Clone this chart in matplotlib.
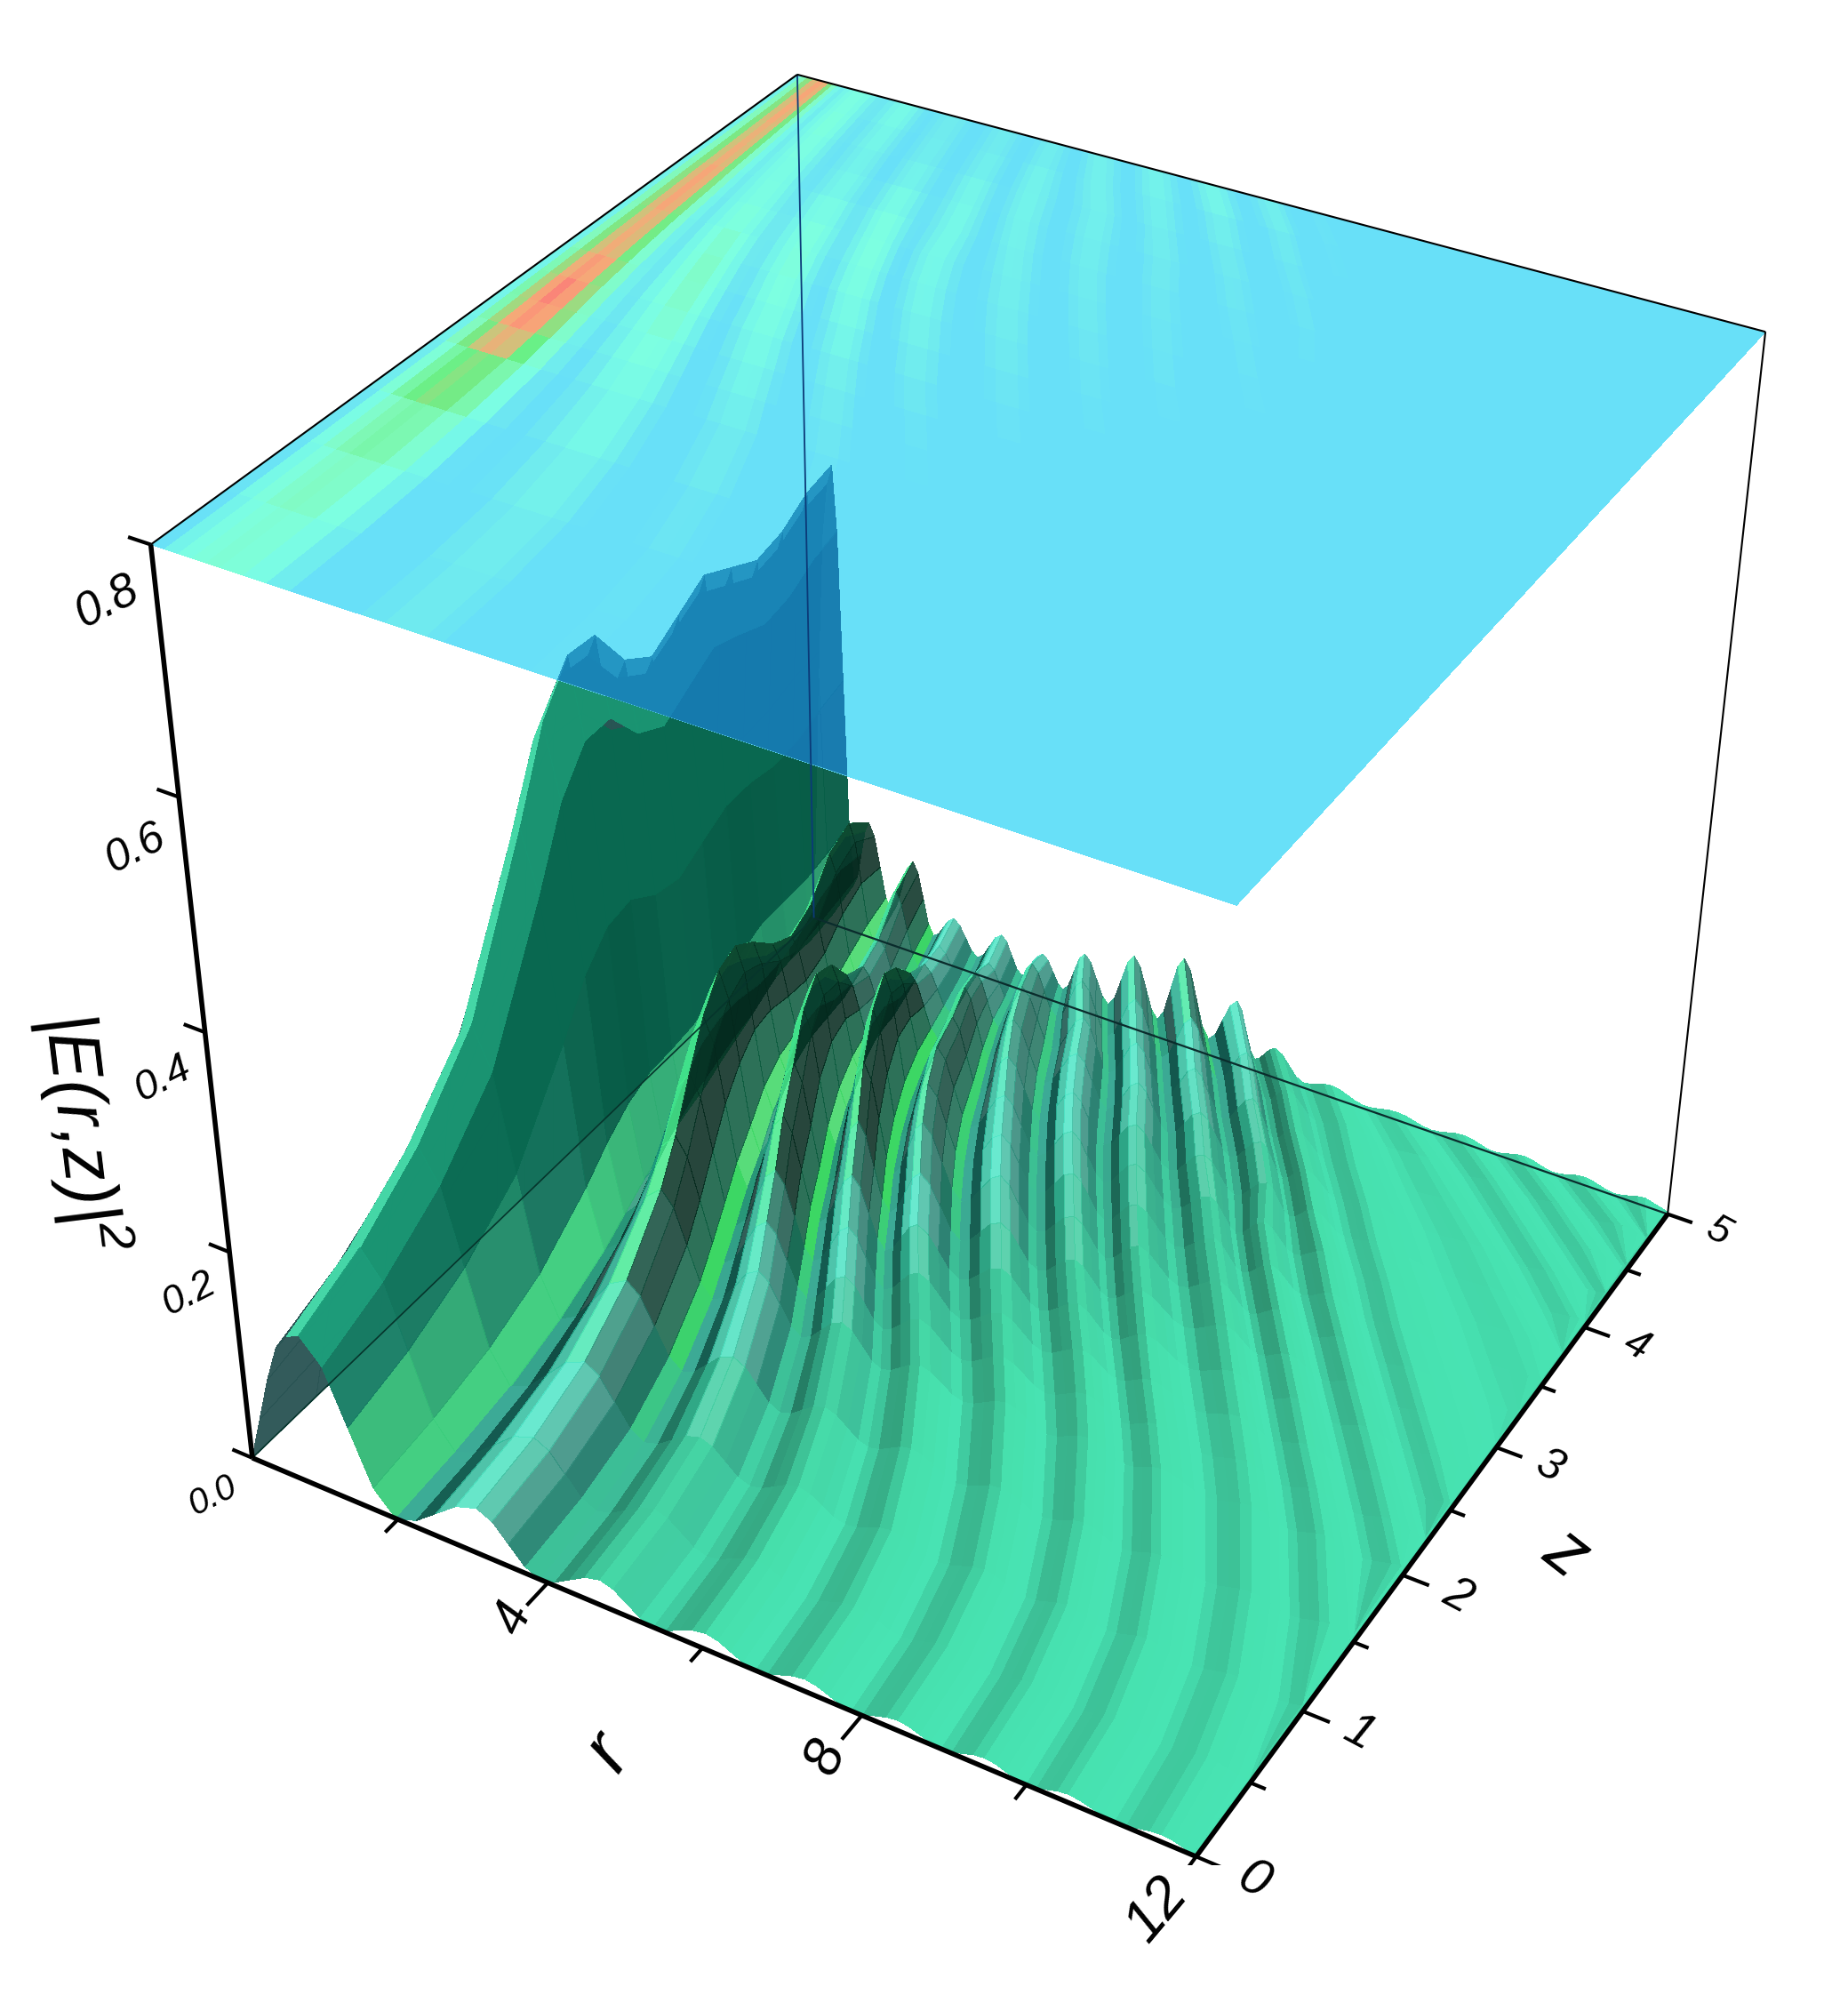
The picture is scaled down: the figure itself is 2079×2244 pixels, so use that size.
import numpy as np
import matplotlib
matplotlib.use('Agg')
import matplotlib.pyplot as plt
from matplotlib.patches import Polygon
from mpl_toolkits.mplot3d import proj3d

plt.rcParams['font.family'] = ['Liberation Sans', 'DejaVu Sans']
plt.rcParams['mathtext.default'] = 'regular'

W, H = 2079, 2244

z_rows = [0, .5, 1, 1.5, 2, 2.25, 2.5, 2.75, 3, 3.25, 3.5, 3.75, 4, 4.25, 4.5, 4.75, 5]

# crest position (r) of each ridge, one value per z row
ridge1_r = [.85, .83, .8, .75, .7, .66, .62, .58, .55, .52, .5, .48, .46, .44, .42, .4, .38]
ridge2_r = [3.1, 3.04, 2.92, 2.7, 2.4, 2.22, 2.04, 1.86, 1.7, 1.55, 1.41, 1.3, 1.19, 1.1, 1.01, .93, .85]
ridge3_r = [4.7, 4.62, 4.44, 4.12, 3.71, 3.45, 3.2, 2.94, 2.72, 2.49, 2.3, 2.14, 1.98, 1.85, 1.72, 1.61, 1.5]
ridge4_r = [6.05, 5.95, 5.73, 5.34, 4.83, 4.51, 4.19, 3.88, 3.6, 3.32, 3.09, 2.89, 2.69, 2.53, 2.38, 2.24, 2.1]
ridge5_r = [7.3, 7.19, 6.93, 6.47, 5.87, 5.51, 5.14, 4.77, 4.45, 4.13, 3.85, 3.62, 3.49, 3.31, 3.12, 2.96, 2.8]
ridge6_r = [8.45, 8.35, 8.11, 7.63, 7, 6.63, 6.26, 5.9, 5.55, 5.2, 4.87, 4.57, 4.27, 4, 3.78, 3.58, 3.4]
ridge7_r = [9.5, 9.39, 9.14, 8.68, 8.07, 7.71, 7.33, 6.93, 6.55, 6.2, 5.85, 5.5, 5.18, 4.9, 4.65, 4.3, 4]
ridge8_r = [10.5, 10.39, 10.12, 9.65, 9, 8.62, 8.22, 7.83, 7.45, 7.07, 6.72, 6.38, 6.05, 5.75, 5.4, 5.05, 4.7]
ridge9_r = [11.6, 11.49, 11.23, 10.76, 10.14, 9.77, 9.37, 8.96, 8.56, 8.16, 7.76, 7.38, 6.98, 6.61, 6.21, 5.83, 5.4]
ridge10_r = [12.6, 12.48, 12.2, 11.71, 11.05, 10.65, 10.22, 9.8, 9.37, 8.94, 8.51, 8.11, 7.83, 7.44, 7.01, 6.61, 6.15]
ridge11_r = [13.6, 13.48, 13.19, 12.67, 11.98, 11.56, 11.12, 10.67, 10.22, 9.77, 9.32, 8.91, 8.46, 8.05, 7.6, 7.18, 6.7]
ridge12_r = [14.6, 14.47, 14.17, 13.64, 12.93, 12.51, 12.04, 11.58, 11.12, 10.66, 10.2, 9.77, 9.31, 8.88, 8.42, 8, 7.5]
ridge13_r = [15.6, 15.53, 15.31, 14.95, 14.45, 14.16, 13.8, 13.44, 13.01, 12.58, 12.07, 11.57, 10.99, 10.42, 9.77, 9.12, 8.4]
ridge14_r = [16.6, 16.53, 16.31, 15.94, 15.43, 15.14, 14.78, 14.41, 13.97, 13.53, 13.02, 12.51, 11.93, 11.34, 10.69, 10.03, 9.3]
ridge15_r = [17.6, 17.53, 17.3, 16.93, 16.4, 16.1, 15.73, 15.35, 14.9, 14.45, 13.93, 13.4, 12.8, 12.2, 11.53, 10.85, 10.1]
ridge16_r = [18.6, 18.52, 18.29, 17.91, 17.37, 17.06, 16.68, 16.29, 15.83, 15.37, 14.83, 14.29, 13.67, 13.06, 12.36, 11.67, 10.9]
ridge17_r = [19.6, 19.52, 19.28, 18.89, 18.34, 18.02, 17.63, 17.23, 16.76, 16.28, 15.73, 15.18, 14.54, 13.91, 13.2, 12.49, 11.7]

# crest height of each ridge
ridge1_h = [.145, .17, .21, .27, .4, .47, .505, .5, .455, .435, .45, .465, .45, .435, .44, .455, .46]
ridge2_h = [.045, .05, .06, .075, .10, .12, .15, .175, .19, .185, .16, .13, .11, .115, .14, .145, .12]
ridge3_h = [.025, .027, .03, .04, .055, .068, .085, .105, .125, .145, .15, .13, .09, .07, .07, .09, .095]
ridge4_h = [.016, .018, .02, .025, .035, .043, .055, .07, .09, .115, .135, .14, .115, .08, .06, .05, .05]
ridge5_h = [.012, .013, .014, .018, .022, .028, .035, .045, .06, .075, .08, .085, .085, .085, .07, .05, .05]
ridge6_h = [.01, .011, .012, .014, .018, .022, .026, .032, .04, .05, .055, .06, .065, .07, .072, .065, .045]
ridge7_h = [.009, .009, .01, .012, .015, .017, .02, .025, .03, .036, .042, .048, .052, .058, .062, .065, .06]
ridge8_h = [.008, .008, .009, .01, .012, .014, .016, .02, .024, .03, .034, .038, .042, .05, .055, .065, .075]
ridge9_h = [.007, .007, .008, .009, .01, .011, .013, .016, .02, .024, .028, .032, .036, .042, .05, .065, .09]
ridge10_h = [.006, .006, .007, .008, .009, .01, .011, .013, .015, .018, .022, .026, .03, .034, .04, .05, .065]
ridge11_h = [.006, .006, .006, .007, .008, .009, .01, .011, .012, .014, .016, .018, .02, .022, .024, .026, .03]
ridge12_h = [.005, .005, .005, .006, .006, .007, .007, .008, .008, .009, .009, .01, .01, .011, .011, .012, .012]
ridge13_h = [.005, .005, .005, .005, .005, .005, .005, .006, .006, .006, .006, .006, .006, .007, .007, .007, .008]
ridge14_h = [.005, .005, .005, .005, .005, .005, .005, .006, .006, .006, .006, .006, .006, .007, .007, .007, .008]
ridge15_h = [.005, .005, .005, .005, .005, .005, .005, .006, .006, .006, .006, .006, .006, .007, .007, .007, .008]
ridge16_h = [.005, .005, .005, .005, .005, .005, .005, .006, .006, .006, .006, .006, .006, .007, .007, .007, .008]
ridge17_h = [.005, .005, .005, .005, .005, .005, .005, .006, .006, .006, .006, .006, .006, .007, .007, .007, .008]

# valley height after each ridge
valley1_h = [0, .002, .004, .008, .015, .02, .025, .028, .03, .03, .035, .04, .05, .05, .045, .045, .05]
valley2_h = [0, .001, .002, .004, .007, .009, .012, .016, .02, .03, .035, .035, .03, .025, .025, .03, .035]
valley3_h = [0, .001, .001, .002, .004, .005, .006, .009, .012, .018, .025, .03, .028, .02, .018, .02, .025]
valley4_h = [0, .001, .001, .002, .003, .004, .005, .006, .008, .012, .016, .02, .024, .022, .018, .016, .018]
valley5_h = [0, .001, .001, .001, .002, .003, .004, .005, .006, .008, .011, .014, .017, .02, .02, .016, .015]
valley6_h = [0, .001, .001, .001, .002, .002, .003, .004, .005, .006, .008, .01, .012, .015, .018, .018, .015]
valley7_h = [0, .001, .001, .001, .002, .002, .003, .003, .004, .005, .006, .007, .009, .011, .014, .017, .016]
valley8_h = [0, .001, .001, .001, .001, .002, .002, .002, .003, .004, .005, .006, .007, .008, .011, .014, .018]
valley9_h = [0, .001, .001, .001, .001, .001, .002, .002, .003, .003, .004, .005, .006, .007, .008, .011, .016]
valley10_h = [0, .001, .001, .001, .001, .001, .002, .002, .002, .003, .003, .004, .004, .005, .006, .008, .012]
valley11_h = [0, .001, .001, .001, .001, .001, .001, .002, .002, .002, .002, .003, .003, .003, .004, .004, .005]
valley12_h = [0, .001, .001, .001, .001, .001, .001, .002, .002, .002, .002, .002, .002, .003, .003, .003, .003]
valley13_h = [0, .001, .001, .001, .001, .001, .001, .001, .001, .001, .002, .002, .002, .002, .002, .002, .002]
valley14_h = [0, .001, .001, .001, .001, .001, .001, .001, .001, .001, .002, .002, .002, .002, .002, .002, .002]
valley15_h = [0, .001, .001, .001, .001, .001, .001, .001, .001, .001, .002, .002, .002, .002, .002, .002, .002]
valley16_h = [0, .001, .001, .001, .001, .001, .001, .001, .001, .001, .002, .002, .002, .002, .002, .002, .002]
valley17_h = [0, .001, .001, .001, .001, .001, .001, .001, .001, .001, .002, .002, .002, .002, .002, .002, .002]

# shape of one ripple and of the rise from r=0 to the first crest
lobe_pos = [0, .2, .4, .6, .8]
lobe_shape = [0, .3, .6, .85, .96]
ripple_pos = [0, .125, .25, .375, .5, .625, .75, .875]
ripple_shape = [1, .85, .5, .15, 0, .15, .5, .85]

r_ticks_major = [4, 8, 12]
r_ticks_minor = [2, 6, 10]
z_ticks_major = [0, 1, 2, 3, 4, 5]
z_ticks_minor = [.5, 1.5, 2.5, 3.5, 4.5]
h_ticks = [0, .2, .4, .6, .8]
h_labels = ['0.0', '0.2', '0.4', '0.6', '0.8']
h_label_size = [29, 32, 34, 36, 38]
z_label_size = [42, 40, 38, 36, 34, 32]

# colours by height for the surface and for the map on the top plane
surf_levels = [0, .02, .05, .1, .2, .5]
surf_cols = np.array([[72, 228, 180], [70, 222, 170], [62, 215, 140], [55, 215, 110], [20, 170, 100], [15, 130, 100]]) / 255
map_levels = [0, .022, .04, .08, .13, .2, .3, .38, .44, .48, .51]
map_cols = np.array([[104, 224, 248], [104, 224, 248], [110, 232, 240], [118, 248, 232], [125, 255, 225],
                     [130, 250, 190], [105, 240, 135], [190, 205, 125], [245, 170, 120], [250, 150, 120], [250, 110, 120]]) / 255
# colour of the faces round a crest, from the 4th face left of it to the 4th face right of it
mid_cols = np.array([[60, 170, 150], [20, 90, 80], [50, 190, 160], [80, 230, 200],
                     [70, 190, 165], [50, 140, 125], [45, 130, 115], [60, 190, 150]]) / 255
tall_cols = np.array([[40, 150, 120], [10, 50, 45], [30, 160, 130], [70, 235, 140],
                      [5, 50, 35], [3, 40, 28], [10, 90, 60], [60, 215, 100]]) / 255
wall_levels = [.04, .09, .18]
wall_low = np.array([[60, 210, 120], [60, 210, 120], [60, 205, 125], [60, 205, 125], [60, 205, 125]]) / 255
wall_mid = np.array([[70, 220, 175], [35, 170, 135], [25, 130, 105], [25, 125, 100], [30, 130, 100]]) / 255
wall_top = np.array([[70, 220, 170], [25, 150, 115], [8, 105, 80], [6, 92, 70], [6, 88, 66]]) / 255
under_col = np.array([42, 84, 84]) / 255

crest_r = np.array([ridge1_r, ridge2_r, ridge3_r, ridge4_r, ridge5_r, ridge6_r, ridge7_r, ridge8_r, ridge9_r,
                    ridge10_r, ridge11_r, ridge12_r, ridge13_r, ridge14_r, ridge15_r, ridge16_r, ridge17_r])
crest_h = np.array([ridge1_h, ridge2_h, ridge3_h, ridge4_h, ridge5_h, ridge6_h, ridge7_h, ridge8_h, ridge9_h,
                    ridge10_h, ridge11_h, ridge12_h, ridge13_h, ridge14_h, ridge15_h, ridge16_h, ridge17_h])
valley_h = np.array([valley1_h, valley2_h, valley3_h, valley4_h, valley5_h, valley6_h, valley7_h, valley8_h, valley9_h,
                     valley10_h, valley11_h, valley12_h, valley13_h, valley14_h, valley15_h, valley16_h, valley17_h])

# mesh lines follow the ridges
r_lines, h_lines = [], []
for p, v in zip(lobe_pos, lobe_shape):
    r_lines.append(crest_r[0] * p)
    h_lines.append(crest_h[0] * v)
for n in range(len(crest_r) - 1):
    for k in range(len(ripple_pos)):
        r_lines.append(crest_r[n] + (crest_r[n + 1] - crest_r[n]) * ripple_pos[k])
        top = crest_h[n] if k < 4 else crest_h[n + 1]
        h_lines.append(valley_h[n] + (top - valley_h[n]) * ripple_shape[k])
r_lines.append(crest_r[-1])
h_lines.append(crest_h[-1])
r_lines.append(np.full(len(z_rows), 12.5))
h_lines.append(valley_h[-1])
R_full = np.array(r_lines).T
R = np.clip(R_full, 0, 12)
E2 = np.array(h_lines).T
Z = np.tile(np.array(z_rows)[:, None], (1, R.shape[1]))


def cell(a):
    return (a[:-1, :-1] + a[1:, :-1] + a[:-1, 1:] + a[1:, 1:]) / 4


cell_h = cell(E2)
dr = (R_full[:-1, 1:] + R_full[1:, 1:] - R_full[:-1, :-1] - R_full[1:, :-1]) / 2
dh = (E2[:-1, 1:] + E2[1:, 1:] - E2[:-1, :-1] - E2[1:, :-1]) / 2
slope = dh / np.maximum(dr, 1e-3)

light = np.where(slope > 0, 1 - .75 * (1 - np.exp(-slope / .1)), 1 - .6 * np.clip((-slope - .12) / .5, 0, 1))
surf_rgb = np.stack([np.interp(cell_h, surf_levels, surf_cols[:, i]) for i in range(3)], axis=-1) * light[..., None]

# faces round the crests take their own colours, stronger as the crest grows
for n in range(1, len(crest_h) - 1):
    c = 5 + 8 * n
    ch = (crest_h[n, :-1] + crest_h[n, 1:]) / 2
    t1 = np.clip((ch - .02) / .03, 0, 1)[:, None]
    t2 = np.clip((ch - .055) / .04, 0, 1)[:, None]
    for off in range(-4, 4):
        surf_rgb[:, c + off] = (1 - t1) * surf_rgb[:, c + off] + t1 * mid_cols[off + 4]
        surf_rgb[:, c + off] = (1 - t2) * surf_rgb[:, c + off] + t2 * tall_cols[off + 4]
# first lobe: rim, wall and the underside seen at the front
surf_rgb[:, :4] = under_col
for off in range(5):
    for i in range(3):
        surf_rgb[:, 4 + off, i] = np.interp(cell_h[:, 4 + off], wall_levels, [wall_low[off, i], wall_mid[off, i], wall_top[off, i]])

surf_alpha = np.where(cell_h < .03, 1, .86)
surf_alpha[:, :9] = .96
surf_rgba = np.dstack([surf_rgb, surf_alpha])
blue = np.array([.1, .5, .8])
tint_rgba = np.dstack([.75 * blue + .25 * surf_rgb, np.full(cell_h.shape, .95)])
map_rgb = np.stack([np.interp(cell_h, map_levels, map_cols[:, i]) for i in range(3)], axis=-1)

fig = plt.figure(figsize=(W / 100, H / 100), dpi=100)
ax = fig.add_axes([0, 0, 1, 1], projection='3d', computed_zorder=False)
ax.set_xlim(0, 12, view_margin=0)
ax.set_ylim(0, 5, view_margin=0)
ax.set_zlim(0, .8, view_margin=0)
ax.set_axis_off()
ax.view_init(elev=35.7295, azim=-60.177, roll=-.3133)
ax.set_proj_type('persp', focal_length=.4878)
ax.set_box_aspect((1, 1.0017, .9989))

scale, off_x, off_y = 11272.48, 1107.99, 1217.35
a, b = ax.viewLim.intervalx
c, d = ax.viewLim.intervaly
side = scale * (b - a)
ax.set_position([(off_x + scale * a) / W, (off_y + scale * c) / H, side / W, side / H])

surf = ax.plot_surface(R, Z, E2, rstride=1, cstride=1, facecolors=surf_rgba, shade=False, linewidth=0, antialiased=False, zorder=1)


def line(rr, zz, hh, lw, col='k', zo=6):
    ax.plot(rr, zz, hh, color=col, lw=lw, solid_capstyle='butt', zorder=zo)


def label(r, z, h, s, size, rot):
    x2, y2, _ = proj3d.proj_transform(r, z, h, ax.get_proj())
    ax.text2D(x2, y2, s, transform=ax.transData, fontsize=size, style='italic', rotation=rot,
              rotation_mode='anchor', ha='center', va='center', zorder=7)


line([0, 0], [0, 5], [0, 0], 1.2, '#06352c', 2)
line([0, 12], [5, 5], [0, 0], 1.6, '#0a2c2c', 2)

ax.plot_surface(R, Z, np.full(R.shape, .8), rstride=1, cstride=1, facecolors=map_rgb, shade=False, linewidth=0, antialiased=False, zorder=3)

tint = ax.plot_surface(R, Z, E2, rstride=1, cstride=1, facecolors=tint_rgba, shade=False, linewidth=0, antialiased=False, zorder=4)
top_r, top_z = [0, 12, 12, 0], [0, 0, 5, 5]
xs, ys, _ = proj3d.proj_transform(np.array(top_r, float), np.array(top_z, float), np.full(4, .8), ax.get_proj())
tint.set_clip_path(Polygon(np.c_[xs, ys], closed=True, transform=ax.transData))

line([0, 0], [5, 5], [0, .8], 1.3, '#0b3a78', 5)
line([0, 0], [0, 5], [.8, .8], 1.5)
line([0, 12], [5, 5], [.8, .8], 1.5)
line([12, 12], [5, 5], [0, .8], 1.5)

# thick axes
line([0, 0], [0, 0], [0, .8], 4)
line([0, 12], [0, 0], [0, 0], 4)
line([12, 12], [0, 5], [0, 0], 4)
for t in r_ticks_major:
    line([t, t], [0, -.17], [0, 0], 3)
for t in r_ticks_minor:
    line([t, t], [0, -.1], [0, 0], 3)
for t in z_ticks_major:
    line([12, 12.32], [t, t], [0, 0], 3)
for t in z_ticks_minor:
    line([12, 12.18], [t, t], [0, 0], 3)
for t in h_ticks:
    line([0, -.28], [0, 0], [t, t], 3)

for t, lab, fs in zip(h_ticks, h_labels, h_label_size):
    label(-.65, 0, t - .058, lab, fs, 27)
for t, fs in zip(z_ticks_major, z_label_size):
    label(12.66, t, 0, str(t), fs, -28)
for t, off, fs, rot in zip(r_ticks_major, [-.27, -.3, -.35], [42, 45, 47], [65, 65, 50]):
    label(t, off, 0, str(t), fs, rot)
label(6, -.75, 0, 'r', 62, 55)
label(13.4, 2.5, 0, 'z', 58, -38)
label(-1.9, 0, .26, '|E(r,z)|$^2$', 58, -83)

fig.savefig('out.png', dpi=100)
